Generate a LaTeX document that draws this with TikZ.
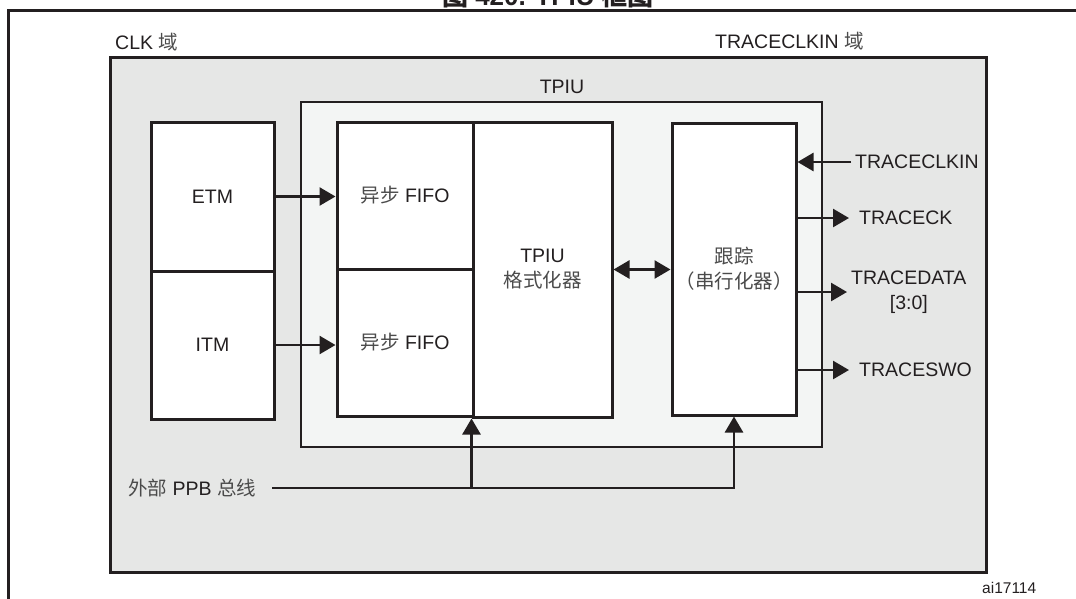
\documentclass[tikz,border=0pt]{standalone}
\usepackage{fontspec}
\setmainfont{Liberation Sans}
\newfontfamily\cjkfont{Noto Sans CJK SC}
\usetikzlibrary{arrows.meta,positioning}
\definecolor{ink}{RGB}{35,31,32}
\definecolor{domain}{RGB}{230,231,230}
\definecolor{pale}{RGB}{243,245,244}
\definecolor{zhgray}{RGB}{75,75,75}
\newcommand{\zh}[1]{{\cjkfont\color{zhgray}#1}}

\begin{document}
\begin{tikzpicture}[x=1pt,y=-1pt,font=\fontsize{19.5}{25}\selectfont,text=ink,
  box/.style={draw=ink,line width=3pt,fill=white,inner sep=0pt,align=center},
  sig/.style={anchor=west,inner sep=0pt},
  wire/.style={draw=ink,line width=2.6pt},
  tip/.style={wire,-{Triangle[length=16pt,width=18pt]}},
  tips/.style={wire,{Triangle[length=16pt,width=18pt]}-{Triangle[length=16pt,width=18pt]}}]
\useasboundingbox (0,0) rectangle (1076,598);
% page frame and cut title
\node[anchor=base,font=\fontsize{26}{30}\selectfont\bfseries] (title) at (548,5) {{\cjkfont 图} 420. TPIU {\cjkfont 框图}};
\draw[ink,line width=3pt] (1080,10) -- (8,10) -- (8,600);
% clock domains
\draw[ink,line width=3pt,fill=domain] (110,57) rectangle (986,572);
\node[sig] (clk) at (115,42) {CLK \zh{域}};
\node[sig] (tclk) at (715,41) {TRACECLKIN \zh{域}};
\draw[ink,line width=2pt,fill=pale] (301,102) rectangle (822,447);
\node (tpiu) at (562,87) {TPIU};
% blocks
\node[box,minimum width=123pt,minimum height=149pt] (etm) at (212.5,196.5) {ETM};
\node[box,minimum width=123pt,minimum height=148pt] (itm) at (212.5,345) {ITM};
\node[box,minimum width=136pt,minimum height=147pt] (fifoA) at (405,195.5) {\zh{异步} FIFO};
\node[box,minimum width=136pt,minimum height=147pt] (fifoB) at (405,342.5) {\zh{异步} FIFO};
\node[box,minimum width=139pt,minimum height=295pt] (fmt) at (542.5,269.5) {TPIU\\\zh{格式化器}};
\node[box,minimum width=124pt,minimum height=292pt] (trace) at (734,269) {\zh{跟踪}\\\zh{（串行化器）}};
% pins
\node[sig] (clkin) at (855,162) {TRACECLKIN};
\node[sig] (traceck) at (859,218) {TRACECK};
\node[sig,align=center] (tdata) at (851,292) {TRACEDATA\\{[3:0]}};
\node[sig] (swo) at (859,370) {TRACESWO};
\node[sig] (ppb) at (128,488) {\zh{外部} PPB \zh{总线}};
\node[sig,font=\fontsize{15.5}{18}\selectfont] (fig) at (982,588) {ai17114};
% connections
\draw[tip] (etm.east) -- (etm.east -| fifoA.west);
\draw[tip] (itm.east) -- (itm.east -| fifoB.west);
\draw[tips] (fmt.east) -- (fmt.east -| trace.west);
\draw[tip,shorten <=4pt] (clkin.west) -- (clkin.west -| trace.east);
\draw[tip,shorten >=10pt] (trace.east |- traceck.west) -- (traceck.west);
\draw[tip,shorten >=4pt] (trace.east |- tdata.west) -- (tdata.west);
\draw[tip,shorten >=10pt] (trace.east |- swo.west) -- (swo.west);
\draw[tip] ([xshift=16pt]ppb.east) -| (trace.south);
\draw[tip] ([yshift=1.5pt]ppb.east -| fmt.south west) -- (fmt.south west);
\end{tikzpicture}
\end{document}
